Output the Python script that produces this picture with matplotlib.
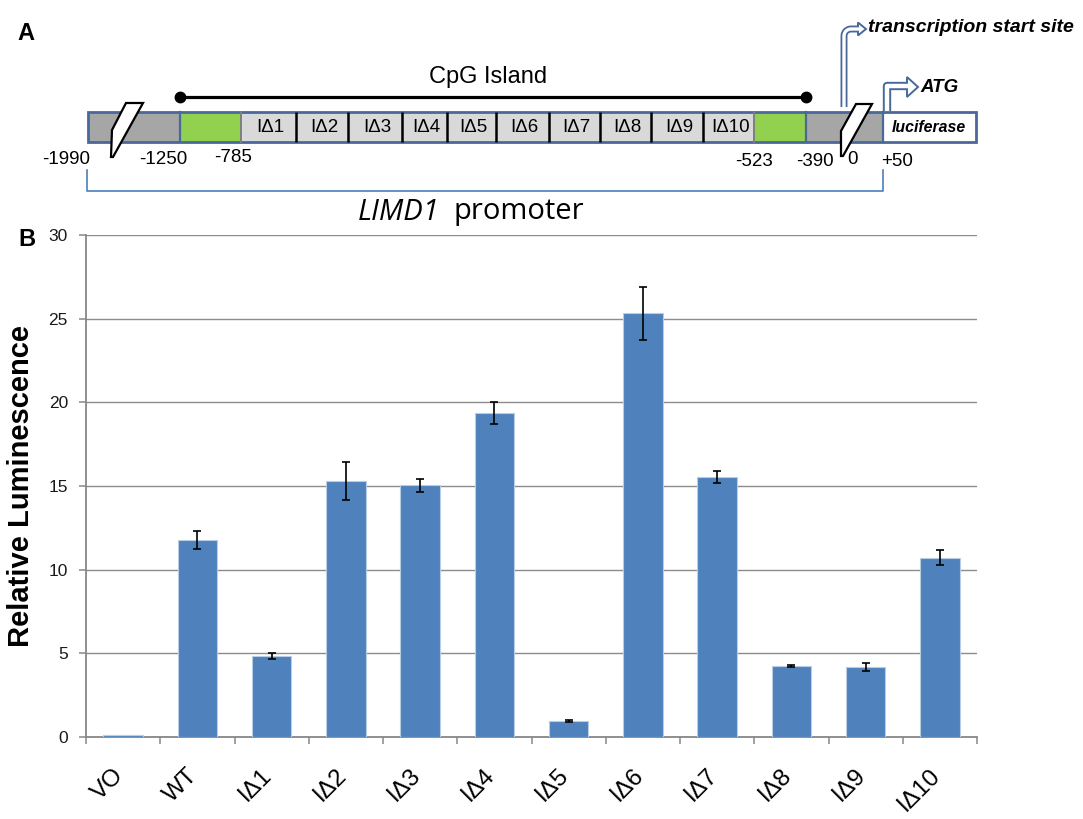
import matplotlib
matplotlib.use('Agg')
import matplotlib.pyplot as plt
import matplotlib.transforms as mtransforms
from matplotlib.patches import Rectangle, Polygon
import numpy as np

plt.rcParams['font.family'] = ['Liberation Sans', 'DejaVu Sans']

# Данні панелі B
categories = ['VO', 'WT', 'IΔ1', 'IΔ2', 'IΔ3', 'IΔ4', 'IΔ5', 'IΔ6', 'IΔ7', 'IΔ8', 'IΔ9', 'IΔ10']
luminescence = [0.1, 11.8, 4.84, 15.3, 15.04, 19.37, 0.95, 25.32, 15.56, 4.25, 4.18, 10.72]
errors = [0.0, 0.54, 0.18, 1.12, 0.38, 0.65, 0.05, 1.58, 0.36, 0.08, 0.26, 0.47]
y_ticks = [0, 5, 10, 15, 20, 25, 30]

# Схема промотора (панель A)
deletion_labels = ['IΔ1', 'IΔ2', 'IΔ3', 'IΔ4', 'IΔ5', 'IΔ6', 'IΔ7', 'IΔ8', 'IΔ9', 'IΔ10']
position_labels = ['-1990', '-1250', '-785', '-523', '-390', '0', '+50']

BLUE = '#4F81BD'
BORDER = '#48699A'

fig = plt.figure(figsize=(10.83, 8.19), dpi=100)

# ---- Панель A: малюємо в піксельних координатах ----
ax0 = fig.add_axes([0, 0, 1, 1])
ax0.set_xlim(0, 1083)
ax0.set_ylim(819, 0)
ax0.axis('off')

top, bot = 112, 142
h = bot - top
# сегменти промотора
ax0.add_patch(Rectangle((88, top), 180 - 88, h, fc='#A6A6A6', ec='none'))
ax0.add_patch(Rectangle((180, top), 241 - 180, h, fc='#92D050', ec='none'))
ax0.add_patch(Rectangle((241, top), 754 - 241, h, fc='#D9D9D9', ec='none'))
ax0.add_patch(Rectangle((754, top), 806 - 754, h, fc='#92D050', ec='none'))
ax0.add_patch(Rectangle((806, top), 883 - 806, h, fc='#A6A6A6', ec='none'))
ax0.add_patch(Rectangle((883, top), 976 - 883, h, fc='white', ec='none'))

del_edges = [241, 296, 348, 402, 447, 496, 549, 600, 651, 703, 754]
for i, lab in enumerate(deletion_labels):
    xc = (del_edges[i] + del_edges[i + 1]) / 2 + 2
    ax0.text(xc, 128, lab, ha='center', va='center', fontsize=13.5)
for xd in del_edges[1:-1]:
    ax0.plot([xd, xd], [top, bot], color='black', lw=1.8, solid_capstyle='butt')
for xd in [241, 754]:
    ax0.plot([xd, xd], [top, bot], color='#7F7F7F', lw=1.4)
for xd in [180, 806, 883]:
    ax0.plot([xd, xd], [top, bot], color=BORDER, lw=1.6)
ax0.add_patch(Rectangle((88, top), 976 - 88, h, fc='none', ec=BORDER, lw=2.0))

ax0.text(929, 128, 'luciferase', ha='center', va='center', fontsize=11.4,
         fontweight='bold', style='italic')

# розриви
ax0.add_patch(Polygon([(112, 130), (126, 103), (143, 103), (113, 157), (111, 157)],
                      closed=True, fc='white', ec='black', lw=1.6, zorder=5))
ax0.add_patch(Polygon([(841, 131), (856, 104), (872, 104), (843, 156), (841, 156)],
                      closed=True, fc='white', ec='black', lw=1.6, zorder=5))

# CpG острів
ax0.plot([180, 806], [96.5, 96.5], color='black', lw=2.3, marker='o', ms=7.5)
ax0.text(488, 77, 'CpG Island', ha='center', va='center', fontsize=17)

# позиції
pos_x = [66, 163, 233, 754, 815, 853, 897]
pos_y = [160, 160, 157, 161, 161, 159, 161]
for lab, px, py in zip(position_labels, pos_x, pos_y):
    ax0.text(px, py, lab, ha='center', va='center', fontsize=13.5)

# дужка промотора
ax0.plot([86.5, 86.5, 883, 883], [170, 191, 191, 170], color='#4A7EBB', lw=1.2)
ax0.text(440, 212, 'LIMD1', ha='right', va='center', fontsize=21,
         style='italic', family='Open Sans')
ax0.text(453, 212, 'promoter', ha='left', va='center', fontsize=21,
         family='Open Sans')


def hollow_arrow(xs, ys, head_x, head_y, head_len, head_w, outer, inner):
    ax0.plot(xs, ys, color=BORDER, lw=outer, solid_capstyle='butt',
             solid_joinstyle='round', zorder=6)
    ax0.add_patch(Polygon([(head_x, head_y - head_w / 2), (head_x + head_len, head_y),
                           (head_x, head_y + head_w / 2)], closed=True,
                          fc='white', ec=BORDER, lw=1.4, zorder=7))
    ax0.plot(xs[:-1] + [xs[-1] + 1.8], ys, color='white', lw=inner,
             solid_capstyle='butt', solid_joinstyle='round', zorder=8)


# стрілка старту транскрипції
t = np.linspace(np.pi, np.pi / 2, 10)
arc_x = list(851 + 7 * np.cos(t))
arc_y = list(36 - 7 * np.sin(t))
hollow_arrow([844, 844] + arc_x + [858], [107, 36] + arc_y + [29],
             858, 29, 8, 13, 5.0, 2.4)
ax0.text(868, 27, 'transcription start site', ha='left', va='center',
         fontsize=14, fontweight='bold', style='italic')

# стрілка ATG
hollow_arrow([886.5, 886.5, 907], [111, 86, 86], 907, 87, 11, 20, 6.0, 3.2)
ax0.text(920, 88, 'ATG', ha='left', va='center', fontsize=13.5,
         fontweight='bold', style='italic')

ax0.text(26, 33, 'A', ha='center', va='center', fontsize=17, fontweight='bold')
ax0.text(27, 240, 'B', ha='center', va='center', fontsize=17, fontweight='bold')

# ---- Панель B: стовпчикова діаграма ----
ax = fig.add_axes([86 / 1083, 1 - 737 / 819, (977 - 86) / 1083, (737 - 235) / 819])
x = np.arange(len(categories))
ax.bar(x, luminescence, width=0.535, color=BLUE, edgecolor='#B9CDE5',
       linewidth=0.8, zorder=3)
mask = np.array(errors) > 0
ax.errorbar(x[mask], np.array(luminescence)[mask], yerr=np.array(errors)[mask],
            fmt='none', ecolor='black', elinewidth=1.2, capsize=3, capthick=1.2,
            zorder=4)

ax.set_xlim(-0.5, len(categories) - 0.5)
ax.set_ylim(0, 30)
ax.set_yticks(y_ticks)
ax.set_xticks(np.arange(-0.5, len(categories), 1.0))
ax.set_xticklabels([])
ax.tick_params(axis='both', direction='out', length=5, width=1.1, color='#878787')
ax.tick_params(axis='y', labelsize=12.5, pad=8, labelcolor='#1a1a1a')
ax.yaxis.grid(True, color='#8C8C8C', lw=1.0)
ax.set_axisbelow(True)
for s in ['top', 'right']:
    ax.spines[s].set_visible(False)
for s in ['left', 'bottom']:
    ax.spines[s].set_color('#878787')
    ax.spines[s].set_linewidth(1.3)

lab_tr = mtransforms.offset_copy(ax.get_xaxis_transform(), fig=fig,
                                 x=-3, y=-35, units='dots')
for i, c in enumerate(categories):
    ax.text(i, 0, c, transform=lab_tr, rotation=45, rotation_mode='anchor',
            ha='right', va='center', fontsize=17.5)

fig.text(21 / 1083, 1 - 486 / 819, 'Relative Luminescence', rotation=90,
         ha='center', va='center', fontsize=21, fontweight='bold')

fig.savefig('out.png', dpi=100)
